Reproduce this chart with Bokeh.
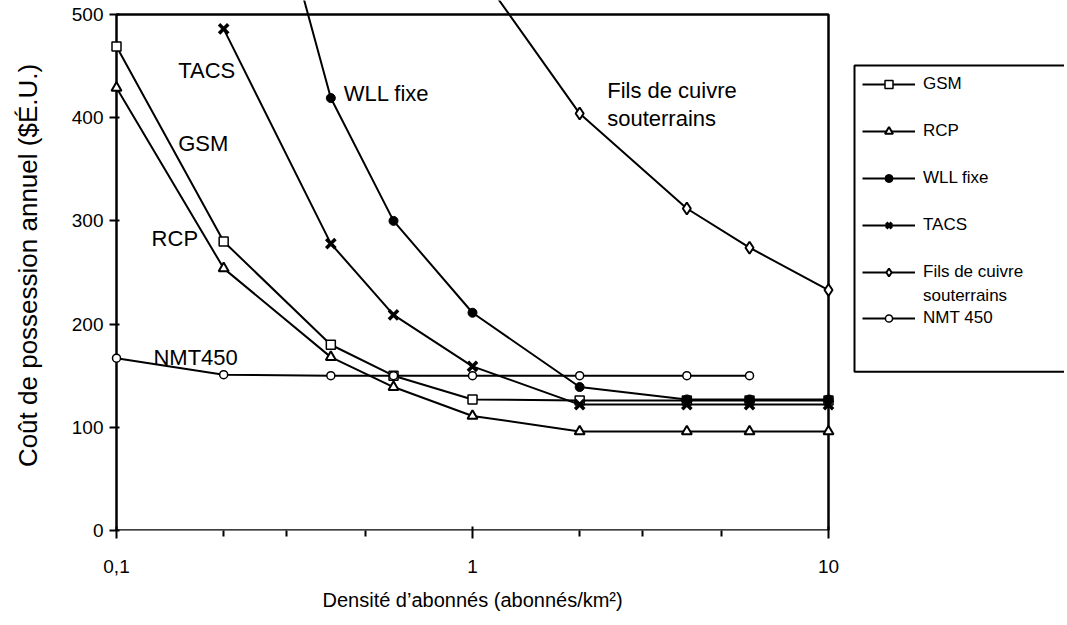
from bokeh.plotting import figure
from bokeh.models import (FixedTicker, Legend, LegendItem, Label, BoxAnnotation, Range1d, Title)
from bokeh.embed import file_html
from bokeh.resources import INLINE

# ---- data ----
densite = [0.1, 0.2, 0.4, 0.6, 1, 2, 4, 6, 10]
gsm = [469, 280, 180, 150, 127, 126, 126, 126, 126]
rcp = [429, 254, 168, 139, 111, 96, 96, 96, 96]

densite_wll = [0.2, 0.4, 0.6, 1, 2, 4, 6, 10]
wll = [800, 419, 300, 211, 139, 127, 127, 127]

densite_tacs = [0.2, 0.4, 0.6, 1, 2, 4, 6, 10]
tacs = [486, 278, 209, 159, 122, 122, 122, 122]

densite_fils = [1, 2, 4, 6, 10]
fils = [550, 404, 312, 274, 233]

densite_nmt = [0.1, 0.2, 0.4, 0.6, 1, 2, 4, 6]
nmt = [167, 151, 150, 150, 150, 150, 150, 150]

x_major = [0.1, 1, 10]
x_minor = [0.2, 0.3, 0.5, 2, 3, 5]
x_labels = {0.1: "0,1", 1: "1", 10: "10"}
y_ticks = [0, 100, 200, 300, 400, 500]

FONT = "Liberation Sans"

# ---- layout (pixels) ----
W, H = 1064, 622
FL = 109            # frame left
FB = 531            # frame bottom (y = 0)
PXD = 356.0         # pixels per decade on x
PXY = 1.034         # pixels per unit on y
X0 = 116            # pixel of x = 0.1
frame_w = W - FL
lx0 = -1 - (X0 - FL) / PXD
x_start = 10 ** lx0
x_end = 10 ** (lx0 + frame_w / PXD)
y_end = FB / PXY

def xpx(px):   # pixel -> data x (for annotations only)
    return 10 ** ((px - X0) / PXD - 1)

def ypx(py):   # pixel -> data y (for annotations only)
    return (FB - py) / PXY

p = figure(width=W, height=H, x_axis_type="log", output_backend="svg",
           toolbar_location=None, x_range=Range1d(x_start, x_end),
           y_range=Range1d(0, y_end),
           min_border_left=FL, min_border_right=0, min_border_top=0,
           min_border_bottom=H - FB)
p.outline_line_color = None
p.xgrid.visible = False
p.ygrid.visible = False
p.background_fill_color = "white"
p.border_fill_color = "white"

# axes
xa = p.xaxis[0]
xa.ticker = FixedTicker(ticks=x_major, minor_ticks=x_minor)
xa.major_label_overrides = x_labels
xa.axis_line_color = None
xa.major_tick_in = 4
xa.major_tick_out = 8
xa.minor_tick_in = 0
xa.minor_tick_out = 6
xa.major_tick_line_width = 2
xa.minor_tick_line_width = 2
xa.major_tick_line_color = "black"
xa.minor_tick_line_color = "black"
xa.major_label_standoff = 21
xa.major_label_text_font = FONT
xa.major_label_text_font_size = "19px"
xa.major_label_text_color = "black"

ya = p.yaxis[0]
ya.ticker = FixedTicker(ticks=y_ticks, minor_ticks=[])
ya.axis_line_color = None
ya.major_tick_in = 10
ya.major_tick_out = 0
ya.major_tick_line_width = 2
ya.major_tick_line_color = "black"
ya.major_label_standoff = 6
ya.major_label_text_font = FONT
ya.major_label_text_font_size = "19px"
ya.major_label_text_color = "black"
ya.axis_label = "Coût de possession annuel ($É.U.)"
ya.axis_label_text_font = FONT
ya.axis_label_text_font_size = "26px"
ya.axis_label_text_font_style = "normal"
ya.axis_label_text_color = "black"
ya.axis_label_standoff = 26

# x axis title, placed below the axis under the plotting box
p.add_layout(Title(text="Densité d’abonnés (abonnés/km²)", align="left", offset=322 - FL,
                   standoff=23, text_font=FONT, text_font_size="20px",
                   text_font_style="normal", text_color="black"), "below")

# plot border box
p.add_layout(BoxAnnotation(left=0.1, right=10, bottom=0, top=500,
                           fill_color=None, fill_alpha=0,
                           line_color="black", line_alpha=1, line_width=2.5,
                           level="underlay"))

LW = 2
items = []

def series(xs, ys, marker, size, fill, mlw, label):
    ln = p.line(xs, ys, line_color="black", line_width=LW)
    sc = p.scatter(xs, ys, marker=marker, size=size, fill_color=fill,
                   line_color="black", line_width=mlw)
    items.append(LegendItem(label=label, renderers=[ln, sc]))

series(densite, gsm, "square", 9, "white", 1.5, "GSM")
series(densite, rcp, "triangle", 10, "white", 2, "RCP")
series(densite_wll, wll, "circle", 9, "black", 1, "WLL fixe")
series(densite_tacs, tacs, "x", 13, None, 3.5, "TACS")
series(densite_fils, fils, "diamond", 12, "white", 2, "Fils de cuivre")
series(densite_nmt, nmt, "circle", 8, "white", 1.5, "NMT 450")

# continuation line of the "Fils de cuivre" legend label (no glyph)
blank = p.line(x=[], y=[], line_alpha=0)
cont_item = LegendItem(label="souterrains", renderers=[blank])

# legend box
p.add_layout(BoxAnnotation(left=xpx(854), right=x_end * 3, bottom=ypx(372), top=ypx(65),
                           fill_color="white", fill_alpha=1,
                           line_color="black", line_alpha=1, line_width=2))

common = dict(orientation="vertical", border_line_color=None,
              background_fill_alpha=0, padding=0, margin=0,
              glyph_width=53, label_standoff=8, label_width=120,
              label_text_font=FONT, label_text_font_size="17px",
              label_text_color="black")

legA = Legend(items=items[:5], location=(862 - FL, FB - (75 + 208)),
              spacing=27, glyph_height=20, label_height=20, **common)
legB = Legend(items=[cont_item, items[5]], location=(862 - FL, FB - 329),
              spacing=2, glyph_height=18, label_height=18, **common)
p.add_layout(legA)
p.add_layout(legB)

# in-plot annotations
def note(x, y, t):
    p.add_layout(Label(x=x, y=y, text=t, text_font=FONT, text_font_size="22px",
                       text_baseline="middle", text_align="left", text_color="black"))

note(0.149, 446, "TACS")
note(0.149, 375, "GSM")
note(0.1255, 283, "RCP")
note(0.435, 423, "WLL fixe")
note(0.127, 168, "NMT450")
note(2.39, 426, "Fils de cuivre")
note(2.39, 399, "souterrains")

open("out.html", "w").write(file_html(p, INLINE))
